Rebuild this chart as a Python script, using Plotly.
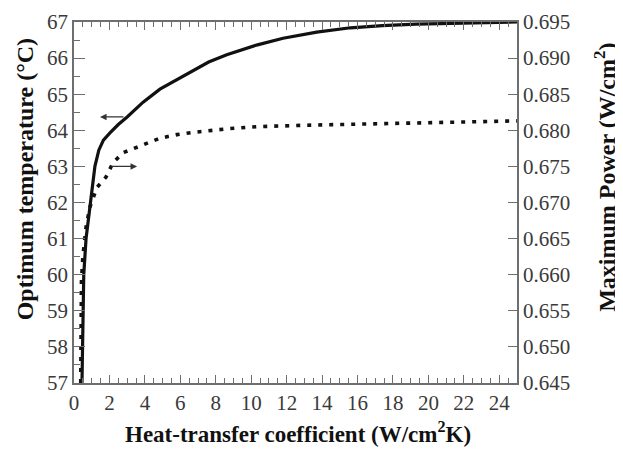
import plotly.graph_objects as go

# Optimum temperature (left axis), solid
temp_h = [0.45, 0.5, 0.55, 0.68, 0.93, 1.18, 1.4, 1.66, 2.03, 2.5, 3.0, 3.9, 4.85, 6.0, 6.73, 7.6, 8.62, 10.3, 11.8, 13.7, 15.6, 17.4, 19.3, 21.2, 23.0, 25.0]
temp_T = [57.0, 59.0, 60.0, 61.0, 62.0, 63.0, 63.45, 63.73, 63.93, 64.16, 64.37, 64.78, 65.14, 65.46, 65.67, 65.89, 66.09, 66.36, 66.55, 66.72, 66.84, 66.9, 66.94, 66.96, 66.98, 67.0]

# Maximum power (right axis), dotted
pow_h = [0.38, 0.4, 0.42, 0.5, 0.68, 0.9, 1.3, 1.8, 2.2, 2.77, 3.55, 4.3, 4.85, 5.8, 6.7, 8.6, 10.3, 13.0, 17.4, 21.0, 25.0]
pow_P = [0.645, 0.652, 0.659, 0.6625, 0.6666, 0.6694, 0.6721, 0.6735, 0.6755, 0.6769, 0.6777, 0.6784, 0.6789, 0.6794, 0.6797, 0.6802, 0.6805, 0.6807, 0.6809, 0.6811, 0.6813]

x_ticks = list(range(0, 25, 2))
y_ticks = list(range(57, 68))
y2_ticks = [0.645, 0.650, 0.655, 0.660, 0.665, 0.670, 0.675, 0.680, 0.685, 0.690, 0.695]

FONT = "Liberation Serif"
AX = "#6e6e6e"
TXT = "#3a3a3a"
TICKSIZE = 21

fig = go.Figure()
fig.add_trace(go.Scatter(x=temp_h, y=temp_T, mode="lines",
                         line=dict(color="#111111", width=3.2), yaxis="y"))
fig.add_trace(go.Scatter(x=pow_h, y=pow_P, mode="lines",
                         line=dict(color="#111111", width=3.6, dash="4px,7px"), yaxis="y2"))

# the page body has an 8px margin, so the figure is sized 8px smaller
fig.update_layout(
    width=615, height=443,
    margin=dict(l=66, r=106, t=14, b=68, autoexpand=False),
    paper_bgcolor="white", plot_bgcolor="white",
    showlegend=False,
    font=dict(family=FONT, size=TICKSIZE, color=TXT),
    xaxis=dict(range=[0, 25], tickvals=x_ticks, ticks="inside", ticklen=8, tickwidth=1.3,
               tickcolor=AX, showline=True, linecolor=AX, linewidth=1.5, mirror="ticks",
               showgrid=False, zeroline=False, automargin=False,
               minor=dict(dtick=0.5, ticks="inside", ticklen=5, tickwidth=1.2, tickcolor=AX, showgrid=False),
               tickfont=dict(family=FONT, size=TICKSIZE, color=TXT)),
    yaxis=dict(range=[57, 67], tickvals=y_ticks, ticks="inside", ticklen=11, tickwidth=1.3,
               tickcolor=AX, showline=True, linecolor=AX, linewidth=1.5,
               showgrid=False, zeroline=False, automargin=False,
               minor=dict(dtick=0.5, ticks="inside", ticklen=6, tickwidth=1.2, tickcolor=AX, showgrid=False),
               tickfont=dict(family=FONT, size=TICKSIZE, color=TXT)),
    yaxis2=dict(range=[0.645, 0.695], tickvals=y2_ticks, tickformat=".3f", overlaying="y", side="right",
                ticks="inside", ticklen=9, tickwidth=1.3, tickcolor=AX, showline=True,
                linecolor=AX, linewidth=1.5, showgrid=False, zeroline=False, automargin=False,
                tickfont=dict(family=FONT, size=TICKSIZE, color=TXT)),
)

side_font = dict(family=FONT, size=24, color="#111111")
fig.add_annotation(text="<b>Optimum temperature (°C)</b>", xref="paper", yref="paper",
                   x=-0.11, y=0.565, textangle=-90, showarrow=False, font=side_font,
                   xanchor="center", yanchor="middle")
fig.add_annotation(text="<b>Maximum Power (W/cm<sup>2</sup>)</b>", xref="paper", yref="paper",
                   x=1.2, y=0.57, textangle=-90, showarrow=False, font=side_font,
                   xanchor="center", yanchor="middle")
fig.add_annotation(text="<b>Heat-transfer coefficient (W/cm<sup>2</sup>K)</b>", xref="paper", yref="paper",
                   x=0.506, y=-0.1385, showarrow=False, font=dict(family=FONT, size=23, color="#111111"),
                   xanchor="center", yanchor="middle")

# indicator arrows
fig.add_annotation(x=1.47, y=64.37, ax=2.88, ay=64.37, xref="x", yref="y", axref="x", ayref="y",
                   text="", showarrow=True, arrowhead=2, arrowsize=1, arrowwidth=1.3, arrowcolor="#333333")
fig.add_annotation(x=3.56, y=63.0, ax=2.03, ay=63.0, xref="x", yref="y", axref="x", ayref="y",
                   text="", showarrow=True, arrowhead=2, arrowsize=1, arrowwidth=1.3, arrowcolor="#333333")

fig.write_html("out.html")
